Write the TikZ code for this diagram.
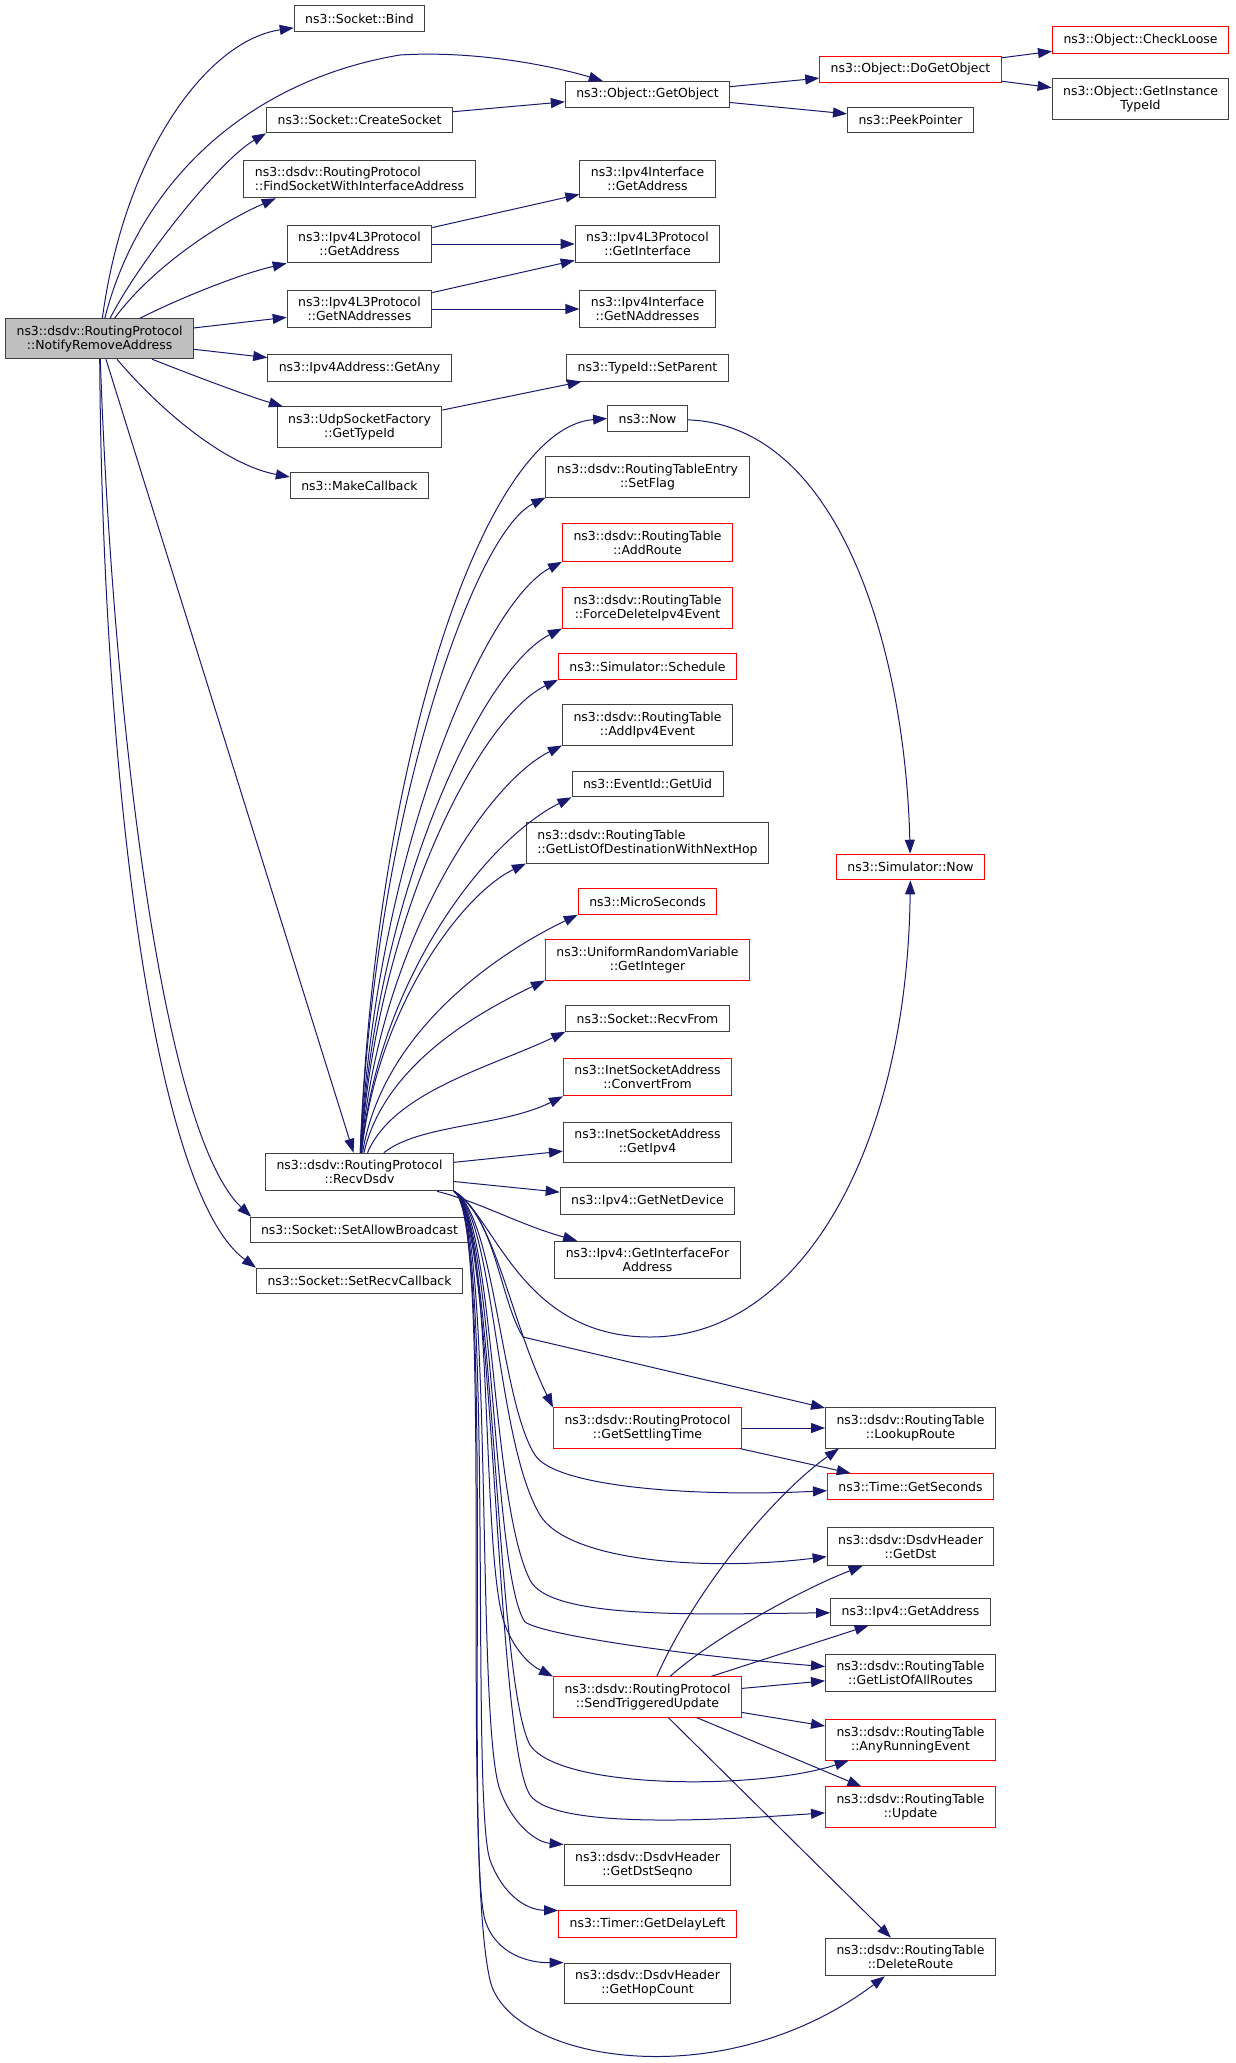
\documentclass[tikz,border=0pt]{standalone}
\usepackage{fontspec}
\setmainfont{DejaVu Sans}
\definecolor{edgeblue}{RGB}{25, 25, 112}
\definecolor{boxgray}{RGB}{64, 64, 64}
\definecolor{mainfill}{RGB}{191, 191, 191}
\usetikzlibrary{arrows.meta}
\tikzset{
    fn/.style={draw=boxgray, line width=1pt, fill=white, inner xsep=11pt,
        inner ysep=7pt, minimum height=25.6pt, align=center,
        font=\fontsize{12.45}{14}\selectfont},
    fnred/.style={fn, draw=red},
    fnmain/.style={fn, fill=mainfill},
    call/.style={draw=edgeblue, line width=1pt,
        -{Triangle[length=14pt, width=10pt]}},
}

\begin{document}
\begin{tikzpicture}[x=1pt, y=-1pt]
    \useasboundingbox (0, 0) rectangle (1235, 2063);
    % caller
    \node[fnmain] (nra) at (99.6, 338.7) {ns3::dsdv::RoutingProtocol\\::NotifyRemoveAddress};
    % first column
    \node[fn] (bind) at (359.5, 18.5) {ns3::Socket::Bind};
    \node[fn] (createsock) at (359.5, 120) {ns3::Socket::CreateSocket};
    \node[fn, align=left] (findsock) at (359.5, 179) {ns3::dsdv::RoutingProtocol\\::FindSocketWithInterfaceAddress};
    \node[fn] (l3addr) at (359.5, 244) {ns3::Ipv4L3Protocol\\::GetAddress};
    \node[fn] (l3naddr) at (359.5, 309) {ns3::Ipv4L3Protocol\\::GetNAddresses};
    \node[fn] (getany) at (359.5, 368) {ns3::Ipv4Address::GetAny};
    \node[fn] (udpfac) at (359.5, 427) {ns3::UdpSocketFactory\\::GetTypeId};
    \node[fn] (makecb) at (359.5, 485.5) {ns3::MakeCallback};
    \node[fn] (rd) at (359.5, 1172) {ns3::dsdv::RoutingProtocol\\::RecvDsdv};
    \node[fn] (setallow) at (359.5, 1230) {ns3::Socket::SetAllowBroadcast};
    \node[fn] (setrecv) at (359.5, 1281) {ns3::Socket::SetRecvCallback};
    % second column
    \node[fn] (getobj) at (647.5, 94.5) {ns3::Object::GetObject};
    \node[fn] (ifaddr) at (647.5, 179) {ns3::Ipv4Interface\\::GetAddress};
    \node[fn] (getiface) at (647.5, 244) {ns3::Ipv4L3Protocol\\::GetInterface};
    \node[fn] (ifnaddr) at (647.5, 309) {ns3::Ipv4Interface\\::GetNAddresses};
    \node[fn] (setparent) at (647.5, 368) {ns3::TypeId::SetParent};
    \node[fn] (now) at (647.5, 418.5) {ns3::Now};
    \node[fn] (setflag) at (647.5, 477) {ns3::dsdv::RoutingTableEntry\\::SetFlag};
    \node[fnred] (addroute) at (647.5, 542.5) {ns3::dsdv::RoutingTable\\::AddRoute};
    \node[fnred] (forcedel) at (647.5, 608) {ns3::dsdv::RoutingTable\\::ForceDeleteIpv4Event};
    \node[fnred] (schedule) at (647.5, 666.5) {ns3::Simulator::Schedule};
    \node[fn] (addipv4) at (647.5, 725) {ns3::dsdv::RoutingTable\\::AddIpv4Event};
    \node[fn] (getuid) at (647.5, 784) {ns3::EventId::GetUid};
    \node[fn, align=left] (getlistdest) at (647.5, 843) {ns3::dsdv::RoutingTable\\::GetListOfDestinationWithNextHop};
    \node[fnred] (micro) at (647.5, 901.5) {ns3::MicroSeconds};
    \node[fnred] (uniform) at (647.5, 960) {ns3::UniformRandomVariable\\::GetInteger};
    \node[fn] (recvfrom) at (647.5, 1018.5) {ns3::Socket::RecvFrom};
    \node[fnred] (convfrom) at (647.5, 1077) {ns3::InetSocketAddress\\::ConvertFrom};
    \node[fn] (getipv4) at (647.5, 1142.5) {ns3::InetSocketAddress\\::GetIpv4};
    \node[fn] (getnetdev) at (647.5, 1201) {ns3::Ipv4::GetNetDevice};
    \node[fn] (getifaddr) at (647.5, 1260) {ns3::Ipv4::GetInterfaceFor\\Address};
    \node[fnred] (settling) at (647.5, 1428) {ns3::dsdv::RoutingProtocol\\::GetSettlingTime};
    \node[fnred] (stu) at (647.5, 1697) {ns3::dsdv::RoutingProtocol\\::SendTriggeredUpdate};
    \node[fn] (dstseqno) at (647.5, 1865) {ns3::dsdv::DsdvHeader\\::GetDstSeqno};
    \node[fnred] (delayleft) at (647.5, 1924) {ns3::Timer::GetDelayLeft};
    \node[fn] (hopcount) at (647.5, 1983) {ns3::dsdv::DsdvHeader\\::GetHopCount};
    % third column
    \node[fnred] (doget) at (910.5, 69.5) {ns3::Object::DoGetObject};
    \node[fn] (peek) at (910.5, 120) {ns3::PeekPointer};
    \node[fnred] (simnow) at (910.5, 867) {ns3::Simulator::Now};
    \node[fn] (lookup) at (910.5, 1428) {ns3::dsdv::RoutingTable\\::LookupRoute};
    \node[fnred] (getsec) at (910.5, 1486.5) {ns3::Time::GetSeconds};
    \node[fn] (getdst) at (910.5, 1546.5) {ns3::dsdv::DsdvHeader\\::GetDst};
    \node[fn] (ipv4addr) at (910.5, 1612) {ns3::Ipv4::GetAddress};
    \node[fn] (alllist) at (910.5, 1673) {ns3::dsdv::RoutingTable\\::GetListOfAllRoutes};
    \node[fnred] (anyrun) at (910.5, 1740) {ns3::dsdv::RoutingTable\\::AnyRunningEvent};
    \node[fnred] (update) at (910.5, 1807) {ns3::dsdv::RoutingTable\\::Update};
    \node[fn] (delroute) at (910.5, 1957) {ns3::dsdv::RoutingTable\\::DeleteRoute};
    % fourth column
    \node[fnred] (checkloose) at (1140.5, 40) {ns3::Object::CheckLoose};
    \node[fn] (instance) at (1140.5, 99) {ns3::Object::GetInstance\\TypeId};

    % calls of NotifyRemoveAddress
    \draw[call] (nra) .. controls (125, 150) and (209, 40) .. (bind);
    \draw[call] (nra) .. controls (140, 180) and (250, 80) .. (400, 55)
        .. controls (480, 50) and (560, 68) .. (getobj);
    \draw[call] (nra) .. controls (140, 260) and (220, 160) .. (createsock.south west);
    \draw[call] (nra) .. controls (150, 270) and (215, 225) .. (findsock.193);
    \draw[call] (nra) .. controls (180, 298) and (240, 274) .. (l3addr.south west);
    \draw[call] (nra) -- (l3naddr);
    \draw[call] (nra) -- (getany);
    \draw[call] (nra) .. controls (200, 378) and (245, 395) .. (udpfac.165);
    \draw[call] (nra) .. controls (160, 410) and (225, 465) .. (makecb.173);
    \draw[call] (nra) -- (rd);
    \draw[call] (nra) .. controls (112, 700) and (160, 1130) .. (setallow.173);
    \draw[call] (nra) .. controls (102, 750) and (150, 1190) .. (setrecv.north west);

    % straight calls
    \foreach \a/\b in {createsock/getobj, getobj/doget, getobj/peek,
            doget/checkloose, doget/instance, l3addr/ifaddr, l3addr/getiface,
            l3naddr/getiface, l3naddr/ifnaddr, udpfac/setparent, rd/getipv4,
            rd/getnetdev, settling/lookup, settling/getsec, stu/ipv4addr,
            stu/alllist, stu/anyrun, stu/update, stu/delroute}
        \draw[call] (\a) -- (\b);
    \draw[call] (now) .. controls (840, 425) and (905, 650) .. (simnow);
    \draw[call] (stu) .. controls (700, 1580) and (780, 1490) .. (lookup.196);
    \draw[call] (stu) .. controls (710, 1640) and (800, 1590) .. (getdst.202);

    % calls of RecvDsdv, upwards
    \draw[call] (rd) .. controls (375, 760) and (484, 428) .. (now.west);
    \foreach \t/\ax/\ay/\bx/\by in {setflag/373/825/472/534,
            addroute/375/858/483/603, forcedel/376/890/483/668,
            schedule/377/916/480/717, addipv4/378/949/484/784,
            getuid/379/975/489/838, getlistdest/377/1008/462/894,
            micro/382/1033/494/955, uniform/384/1066/475/1014,
            recvfrom/393/1092/491/1067, convfrom/420/1124/501/1127}
        \draw[call] (rd) .. controls (\ax, \ay) and (\bx, \by) .. (\t.south west);
    \draw[call] (rd) .. controls (480, 1202) and (520, 1225) .. (getifaddr);

    % calls of RecvDsdv, downwards
    \draw[call] (rd.south east) .. controls (495, 1215) and (520, 1337) .. (650, 1337)
        .. controls (800, 1337) and (907, 1150) .. (simnow);
    \draw[call] (rd.south east) .. controls (495, 1215) and (500, 1300) .. (523, 1337) -- (lookup);
    \draw[call] (rd.south east) .. controls (495, 1215) and (510, 1320) .. (settling.north west);
    \draw[call] (rd.south east) .. controls (495, 1215) and (500, 1400) .. (535, 1455)
        .. controls (556, 1488) and (700, 1497) .. (getsec);
    \draw[call] (rd.south east) .. controls (495, 1215) and (495, 1440) .. (540, 1515)
        .. controls (567, 1560) and (700, 1572) .. (getdst);
    \draw[call] (rd.south east) .. controls (495, 1215) and (490, 1500) .. (530, 1580)
        .. controls (550, 1620) and (700, 1614) .. (ipv4addr);
    \draw[call] (rd.south east) .. controls (495, 1215) and (492, 1575) .. (525, 1622)
        .. controls (545, 1636) and (700, 1657) .. (alllist);
    \draw[call] (rd.south east) .. controls (495, 1215) and (480, 1560) .. (505, 1625)
        .. controls (515, 1651) and (530, 1665) .. (stu.north west);
    \draw[call] (rd.south east) .. controls (495, 1215) and (495, 1680) .. (530, 1745)
        .. controls (560, 1790) and (760, 1790) .. (anyrun);
    \draw[call] (rd.south east) .. controls (495, 1215) and (495, 1740) .. (530, 1795)
        .. controls (555, 1830) and (720, 1820) .. (update);
    \draw[call] (rd.south east) .. controls (495, 1215) and (475, 1720) .. (500, 1790)
        .. controls (512, 1823) and (535, 1842) .. (dstseqno.north west);
    \draw[call] (rd.south east) .. controls (495, 1215) and (470, 1800) .. (490, 1860)
        .. controls (502, 1893) and (525, 1910) .. (delayleft.north west);
    \draw[call] (rd.south east) .. controls (495, 1215) and (465, 1850) .. (485, 1920)
        .. controls (496, 1955) and (530, 1963) .. (hopcount.north west);
    \draw[call] (rd.south east) .. controls (495, 1215) and (460, 1850) .. (490, 1980)
        .. controls (508, 2060) and (720, 2100) .. (delroute);
\end{tikzpicture}
\end{document}
